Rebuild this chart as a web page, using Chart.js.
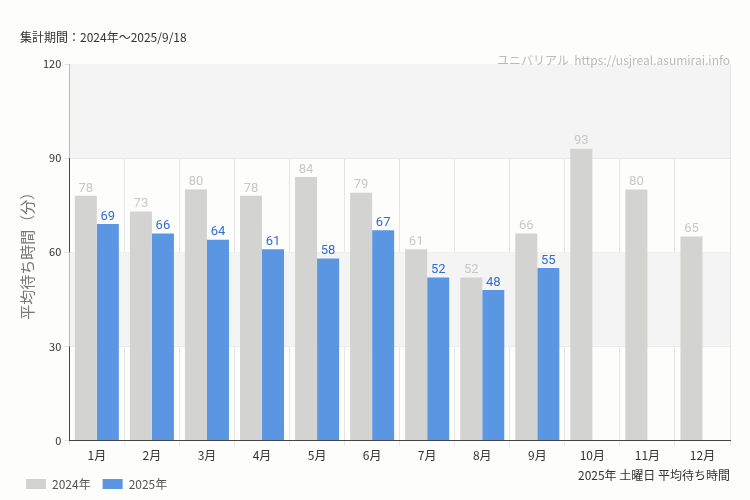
<!DOCTYPE html>
<html>
<head>
<meta charset="utf-8">
<script src="https://cdn.jsdelivr.net/npm/chart.js@4"></script>
<style>
  html, body { margin: 0; padding: 0; background: #fdfdfb; }
  #wrap { width: 750px; height: 500px; position: relative; }
</style>
</head>
<body>
<div id="wrap"><canvas id="chart" width="750" height="500"></canvas></div>
<script>
// Data
const months = ["1月", "2月", "3月", "4月", "5月", "6月", "7月", "8月", "9月", "10月", "11月", "12月"];
const wait2024 = [78, 73, 80, 78, 84, 79, 61, 52, 66, 93, 80, 65];
const wait2025 = [69, 66, 64, 61, 58, 67, 52, 48, 55, null, null, null];
const yTicks = [0, 30, 60, 90, 120];

const FONT = "'Noto Sans CJK JP', 'Noto Sans', sans-serif";
const GRAY = "#d3d3d1";
const BLUE = "#5b96e3";

// bands + texts + value labels
const decor = {
  id: "decor",
  beforeDatasetsDraw(c) {
    const { ctx, chartArea: a, scales: { y } } = c;
    ctx.save();
    ctx.fillStyle = "#f4f4f4";
    [[90, 120], [30, 60]].forEach(([lo, hi]) => {
      ctx.fillRect(a.left, y.getPixelForValue(hi), a.right - a.left, y.getPixelForValue(lo) - y.getPixelForValue(hi));
    });
    ctx.restore();
  },
  afterDatasetsDraw(c) {
    const { ctx } = c;
    ctx.save();
    ctx.font = "13px 'Liberation Sans Narrow', 'Roboto', sans-serif";
    ctx.textAlign = "center";
    ctx.textBaseline = "bottom";
    [[0, "#c8c8c8"], [1, "#2f6fd0"]].forEach(([di, col]) => {
      ctx.fillStyle = col;
      c.getDatasetMeta(di).data.forEach((bar, i) => {
        const v = c.data.datasets[di].data[i];
        if (v == null) return;
        ctx.fillText(v, bar.x, bar.y - 1);
      });
    });
    ctx.font = "12px " + FONT;
    ctx.textAlign = "left";
    ctx.textBaseline = "middle";
    ctx.fillStyle = "#333";
    ctx.fillText("集計期間：2024年～2025/9/18", 20, 37);
    ctx.textAlign = "right";
    ctx.fillStyle = "#bbb";
    ctx.fillText("ユニバリアル  https://usjreal.asumirai.info", 730, 60);
    ctx.fillStyle = "#333";
    ctx.fillText("2025年 土曜日 平均待ち時間", 730, 475);
    ctx.restore();
  }
};

new Chart(document.getElementById("chart"), {
  type: "bar",
  data: {
    labels: months,
    datasets: [
      { label: "2024年", data: wait2024, backgroundColor: GRAY },
      { label: "2025年", data: wait2025, backgroundColor: BLUE }
    ]
  },
  options: {
    responsive: false,
    animation: false,
    categoryPercentage: 0.8,
    barPercentage: 1.0,
    layout: { padding: { top: 64, right: 20, left: 14, bottom: 0 } },
    plugins: {
      legend: {
        position: "bottom",
        align: "start",
        labels: { boxWidth: 20, boxHeight: 10, font: { family: FONT, size: 12 }, color: "#555", padding: 12 }
      },
      tooltip: { enabled: false }
    },
    scales: {
      x: {
        grid: { color: "#e6e6e6", drawTicks: true, tickLength: 5 },
        border: { color: "#444" },
        ticks: { color: "#333", font: { family: FONT, size: 12 } }
      },
      y: {
        min: 0, max: 120,
        afterBuildTicks(s) { s.ticks = yTicks.map(v => ({ value: v })); },
        grid: { color: "#e6e6e6", tickLength: 5 },
        border: { color: "#444" },
        ticks: { color: "#333", font: { family: FONT, size: 11 } },
        title: { display: true, text: "平均待ち時間（分）", color: "#777", font: { family: FONT, size: 15 } }
      }
    }
  },
  plugins: [decor]
});
</script>
</body>
</html>
